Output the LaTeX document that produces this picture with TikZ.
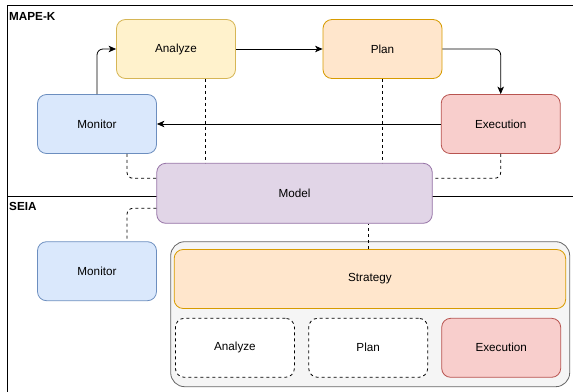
\documentclass[tikz,border=0pt]{standalone}
\usepackage{fontspec}
\setmainfont{Liberation Sans}
\usetikzlibrary{arrows.meta,positioning,calc}
\definecolor{monfill}{HTML}{DAE8FC}\definecolor{monline}{HTML}{6C8EBF}
\definecolor{anafill}{HTML}{FFF2CC}\definecolor{analine}{HTML}{D6B656}
\definecolor{plnfill}{HTML}{FFE6CC}\definecolor{plnline}{HTML}{D79B00}
\definecolor{exefill}{HTML}{F8CECC}\definecolor{exeline}{HTML}{B85450}
\definecolor{mdlfill}{HTML}{E1D5E7}\definecolor{mdlline}{HTML}{9673A6}
\definecolor{boxfill}{HTML}{F5F5F5}\definecolor{boxline}{HTML}{666666}
\tikzset{
  blok/.style={draw,rounded corners=9pt,minimum width=119pt,minimum height=59pt,
    inner sep=0pt,line width=0.8pt,font=\fontsize{11.7}{14}\selectfont},
  monbox/.style={blok,fill=monfill,draw=monline},
  anabox/.style={blok,fill=anafill,draw=analine},
  plnbox/.style={blok,fill=plnfill,draw=plnline},
  exebox/.style={blok,fill=exefill,draw=exeline},
  mdlbox/.style={blok,fill=mdlfill,draw=mdlline},
  emptybox/.style={blok,fill=white,draw=black,dash pattern=on 3pt off 3pt},
  flow/.style={-{Stealth[length=7.5pt,width=6.5pt,inset=2pt]},line width=0.8pt,rounded corners=6pt},
  dashlink/.style={line width=0.8pt,dash pattern=on 3pt off 3pt,rounded corners=6pt},
  frame/.style={draw=black,line width=0.8pt},
  title/.style={anchor=base west,inner sep=0pt,font=\fontsize{11.7}{14}\selectfont\bfseries},
}
\begin{document}
\begin{tikzpicture}[x=1pt,y=-1pt]
  \useasboundingbox (0,0) rectangle (573,391);
  % twee kaders: MAPE-K boven, SEIA onder
  \draw[frame] (7,5) rectangle (576,196);
  \draw[frame] (7,196) rectangle (576,394);
  \node[title] (tmape) at (9,20) {MAPE-K};
  \node[title] (tseia) at (9,210.5) {SEIA};
  % MAPE-K lus
  \node[anabox] (ana) at (176,49) {Analyze};
  \node[plnbox] (pln) at (382.5,49) {Plan};
  \node[monbox] (mon) at (97,124) {Monitor};
  \node[exebox] (exe) at (500.7,124) {Execution};
  \node[mdlbox,minimum width=275.5pt,minimum height=60pt] (mdl) at (294.5,193.3) {Model};
  \draw[flow] (mon.north) |- (ana.west);
  \draw[flow] (ana.east) -- (pln.west);
  \draw[flow] (pln.east) -| (exe.north);
  \draw[flow] (exe.west) -- (mon.east);
  % kennis (model) koppelingen
  \coordinate (ana-d) at ([xshift=29pt]ana.south);
  \coordinate (mon-d) at ([xshift=30pt]mon.south);
  \coordinate (mdl-wu) at ([yshift=15pt]mdl.west);
  \coordinate (mdl-eu) at ([yshift=15pt]mdl.east);
  \coordinate (mdl-wd) at ([yshift=-15pt]mdl.west);
  \draw[dashlink] (ana-d) -- (ana-d |- mdl.north);
  \draw[dashlink] (pln.south) -- (pln.south |- mdl.north);
  \draw[dashlink] (mon-d) |- (mdl-wu);
  \draw[dashlink] (exe.south) |- (mdl-eu);
  % SEIA
  \node[monbox] (mon2) at (97,271.2) {Monitor};
  \node[draw=boxline,fill=boxfill,line width=0.8pt,rounded corners=14pt,
    minimum width=399pt,minimum height=145pt] (box) at (370.2,314.2) {};
  \node[plnbox,minimum width=391.5pt] (str) at (369.9,279) {Strategy};
  \node[emptybox] (ana2) at (234.9,347.8) {Analyze};
  \node[emptybox] (pln2) at (368.2,347.8) {Plan};
  \node[exebox] (exe2) at (501.2,347.8) {Execution};
  \coordinate (mon2-u) at ([xshift=30pt]mon2.north);
  \draw[dashlink] (mdl-wd) -| (mon2-u);
  \draw[dashlink] ([xshift=-2pt]str.north) -- ([xshift=-2pt]str.north |- mdl.south);
\end{tikzpicture}
\end{document}
